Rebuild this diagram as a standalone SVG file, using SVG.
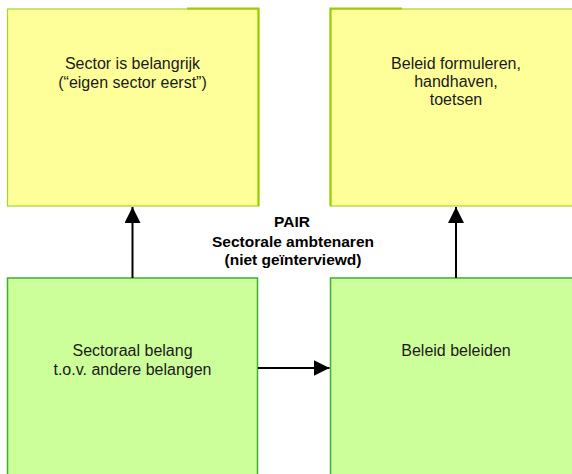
<svg xmlns="http://www.w3.org/2000/svg" width="572" height="474" viewBox="0 0 572 474">
<defs>
<style>
.yel{fill:#FFFF99;stroke:#A8D42A;stroke-width:1.2}
.yedge{stroke:#99CC00;stroke-width:2.2;fill:none}
.grn{fill:#CCFF99;stroke:#3FAF2F;stroke-width:1.5}
.t{font-family:"Liberation Sans",Arial,sans-serif;font-size:16px;fill:#1a1a1a;text-anchor:middle}
.b{font-family:"Liberation Sans",Arial,sans-serif;font-size:15.5px;font-weight:bold;fill:#000;text-anchor:middle}
.c{stroke:#000;stroke-width:2;fill:none}
</style>
<marker id="ah" viewBox="0 0 16 16" refX="16" refY="8" markerWidth="16" markerHeight="16" markerUnits="userSpaceOnUse" orient="auto">
<path d="M0,0 L16,8 L0,16 Z" fill="#000"/>
</marker>
</defs>
<rect width="572" height="474" fill="#fff"/>
<g id="node-sector-belangrijk">
<rect class="yel" x="7.5" y="9" width="251" height="197"/>
<path class="yedge" d="M187,8.5 H258.5 V206"/>
<text class="t" x="132.5" y="69">Sector is belangrijk</text>
<text class="t" x="132.5" y="87.5">(“eigen sector eerst”)</text>
</g>
<g id="node-beleid-formuleren">
<rect class="yel" x="330.5" y="9" width="250" height="197"/>
<path class="yedge" d="M330.5,206 V8.5 H402"/>
<text class="t" x="456" y="69">Beleid formuleren,</text>
<text class="t" x="456" y="87.3">handhaven,</text>
<text class="t" x="456" y="105">toetsen</text>
</g>
<g id="node-sectoraal-belang">
<rect class="grn" x="7.5" y="278" width="250" height="210"/>
<text class="t" x="132.5" y="356">Sectoraal belang</text>
<text class="t" x="132.5" y="374.5">t.o.v. andere belangen</text>
</g>
<g id="node-beleid-beleiden">
<rect class="grn" x="330.5" y="278" width="250" height="210"/>
<text class="t" x="456" y="356">Beleid beleiden</text>
</g>
<g id="label-pair">
<text class="b" x="292" y="227.3">PAIR</text>
<text class="b" x="293" y="246.5">Sectorale ambtenaren</text>
<text class="b" x="293" y="265">(niet geïnterviewd)</text>
</g>
<g id="connectors">
<line class="c" x1="132.5" y1="278" x2="132.5" y2="207" marker-end="url(#ah)"/>
<line class="c" x1="456" y1="278" x2="456" y2="207" marker-end="url(#ah)"/>
<line class="c" x1="258" y1="368" x2="329.5" y2="368" marker-end="url(#ah)"/>
</g>
</svg>
